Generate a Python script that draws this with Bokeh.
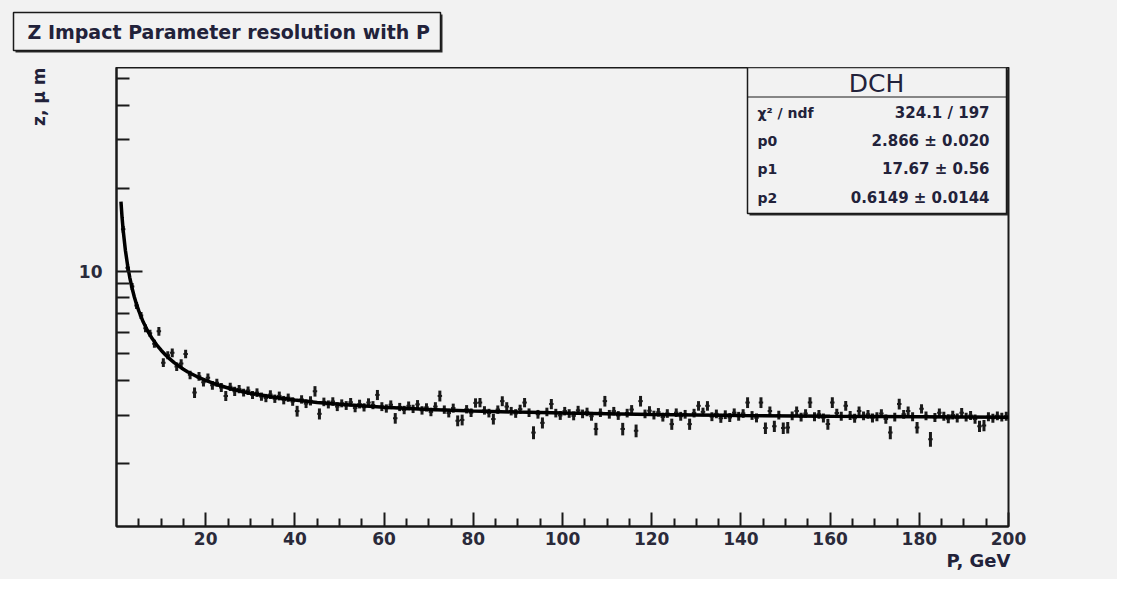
from bokeh.plotting import figure
from bokeh.layouts import column
from bokeh.models import Range1d, FixedTicker, Label, BoxAnnotation, ColumnDataSource, Title
from bokeh.embed import file_html
from bokeh.resources import INLINE

# ---------------- data ----------------
bin_lo = 1
bin_hi = 200
resolution = [
    14.2, 10.3, 8.8, 7.5, 6.9, 6.2, 5.95, 5.45, 6.05, 4.65,
    4.95, 5.05, 4.50, 4.62, 5.00, 4.20, 3.62, 4.15, 3.95, 4.10,
    3.85, 3.93, 3.78, 3.52, 3.80, 3.66, 3.73, 3.62, 3.68, 3.55,
    3.62, 3.50, 3.46, 3.56, 3.44, 3.52, 3.40, 3.47, 3.36, 3.10,
    3.42, 3.30, 3.38, 3.66, 3.03, 3.35, 3.28, 3.36, 3.22, 3.31,
    3.25, 3.34, 3.18, 3.29, 3.20, 3.33, 3.26, 3.55, 3.22, 3.17,
    3.27, 2.92, 3.21, 3.13, 3.24, 3.16, 3.28, 3.12, 3.20, 3.08,
    3.22, 3.52, 3.14, 3.05, 3.18, 2.86, 2.88, 3.15, 3.06, 3.32,
    3.33, 3.12, 3.05, 2.90, 3.14, 3.37, 3.22, 3.10, 3.04, 3.15,
    3.33, 3.06, 2.59, 3.02, 2.81, 3.08, 3.29, 3.05, 2.99, 3.10,
    3.04, 2.98, 3.12, 3.03, 3.08, 2.97, 2.67, 3.06, 3.37, 3.02,
    3.10, 2.99, 2.67, 3.05, 3.14, 2.63, 3.37, 3.03, 3.11, 3.00,
    3.07, 2.95, 3.04, 2.78, 3.06, 2.97, 3.02, 2.78, 3.05, 3.24,
    3.08, 3.24, 2.96, 3.03, 2.92, 3.01, 2.94, 3.06, 2.97, 3.04,
    3.33, 2.99, 2.93, 3.33, 2.69, 3.10, 2.73, 3.00, 2.69, 2.70,
    2.98, 3.10, 2.95, 3.04, 3.33, 2.96, 3.02, 2.93, 2.78, 3.33,
    3.05, 2.97, 3.24, 2.99, 2.92, 3.10, 2.98, 3.02, 2.93, 2.96,
    3.04, 2.90, 2.59, 2.95, 3.29, 3.02, 3.10, 2.96, 2.70, 3.16,
    2.98, 2.45, 2.94, 3.06, 2.97, 2.91, 3.00, 2.93, 3.06, 2.95,
    2.99, 2.90, 2.73, 2.75, 2.96, 2.92, 2.98, 2.95, 2.97,
]
resolution_err = [
    0.40, 0.30, 0.25, 0.22, 0.20, 0.20, 0.18, 0.18, 0.22, 0.17,
    0.17, 0.18, 0.16, 0.16, 0.18, 0.15, 0.16, 0.15, 0.14, 0.15,
    0.14, 0.13, 0.14, 0.15, 0.13, 0.14, 0.13, 0.12, 0.13, 0.12,
    0.13, 0.12, 0.12, 0.13, 0.12, 0.13, 0.12, 0.12, 0.12, 0.14,
    0.12, 0.12, 0.13, 0.16, 0.14, 0.12, 0.11, 0.12, 0.12, 0.11,
    0.12, 0.12, 0.11, 0.12, 0.11, 0.12, 0.11, 0.15, 0.12, 0.11,
    0.12, 0.13, 0.11, 0.11, 0.12, 0.11, 0.12, 0.11, 0.11, 0.11,
    0.12, 0.16, 0.11, 0.11, 0.12, 0.13, 0.13, 0.11, 0.11, 0.13,
    0.13, 0.11, 0.11, 0.13, 0.11, 0.14, 0.12, 0.11, 0.11, 0.12,
    0.13, 0.11, 0.14, 0.11, 0.13, 0.11, 0.14, 0.11, 0.11, 0.11,
    0.11, 0.11, 0.12, 0.11, 0.11, 0.11, 0.14, 0.11, 0.15, 0.11,
    0.11, 0.11, 0.14, 0.11, 0.12, 0.14, 0.15, 0.11, 0.12, 0.11,
    0.11, 0.11, 0.11, 0.13, 0.11, 0.11, 0.11, 0.13, 0.11, 0.13,
    0.11, 0.13, 0.11, 0.11, 0.11, 0.11, 0.11, 0.11, 0.11, 0.11,
    0.15, 0.11, 0.11, 0.15, 0.13, 0.12, 0.13, 0.11, 0.13, 0.13,
    0.11, 0.12, 0.11, 0.11, 0.15, 0.11, 0.11, 0.11, 0.13, 0.15,
    0.11, 0.11, 0.13, 0.11, 0.11, 0.12, 0.11, 0.11, 0.11, 0.11,
    0.11, 0.11, 0.14, 0.11, 0.15, 0.11, 0.12, 0.11, 0.13, 0.12,
    0.11, 0.15, 0.11, 0.11, 0.11, 0.11, 0.11, 0.11, 0.12, 0.11,
    0.11, 0.11, 0.13, 0.13, 0.11, 0.11, 0.11, 0.11, 0.11,
]
fit_p = [1, 1.25, 1.5, 2, 2.5, 3, 3.5, 4, 4.5, 5, 6, 7, 8, 9, 10, 11, 12, 13, 14,
         15, 16, 18, 20, 22.5, 25, 27.5, 30, 35, 40, 45, 50, 60, 70, 80, 90,
         100, 120, 140, 160, 180, 200]
fit_z = [17.9, 15.67, 14.06, 11.89, 10.47, 9.44, 8.67, 8.06, 7.57, 7.17, 6.53,
         6.06, 5.69, 5.40, 5.16, 4.96, 4.79, 4.64, 4.52, 4.40, 4.30, 4.14, 4.01,
         3.872, 3.76, 3.676, 3.60, 3.49, 3.40, 3.333, 3.28, 3.20, 3.145, 3.104,
         3.074, 3.049, 3.013, 2.988, 2.970, 2.956, 2.945]
x_major = [20, 40, 60, 80, 100, 120, 140, 160, 180, 200]
x_minor = [5, 10, 15, 25, 30, 35, 45, 50, 55, 65, 70, 75, 85, 90, 95, 105, 110,
           115, 125, 130, 135, 145, 150, 155, 165, 170, 175, 185, 190, 195]
y_major = [10]
y_minor = [2, 3, 4, 5, 6, 7, 8, 9, 20, 30, 40, 50]
title_text = "Z Impact Parameter resolution with P"
x_title = "P, GeV"
y_title = "z, \u03bc m"
stats_title = "DCH"
stats_names = ["\u03c7\u00b2 / ndf", "p0", "p1", "p2"]
stats_values = ["324.1 / 197", "2.866 \u00b1 0.020", "17.67 \u00b1 0.56", "0.6149 \u00b1 0.0144"]

# ---------------- styling ----------------
BG = "#f2f2f2"
INK = "#1a1a1a"
TXT = "#22223a"
FONT = "DejaVu Sans"
W = 1117
TOP_H = 67
MAIN_H = 512


def box(fig, l, t, r, b, fill, line=None, lw=1.5):
    fig.add_layout(BoxAnnotation(left=l, right=r, top=t, bottom=b,
                                 left_units="canvas", right_units="canvas",
                                 top_units="canvas", bottom_units="canvas",
                                 fill_color=fill, fill_alpha=1.0,
                                 line_color=line, line_width=lw,
                                 line_alpha=1.0 if line else 0.0))


def label(fig, x, y, text, size, align="left", style="bold", baseline="middle"):
    fig.add_layout(Label(x=x, y=y, x_units="canvas", y_units="canvas", text=text,
                         text_font=FONT, text_font_size=size, text_font_style=style,
                         text_align=align, text_baseline=baseline, text_color=TXT))


# ---- header strip with the ROOT title box ----
head = figure(width=W, height=TOP_H, output_backend="svg", toolbar_location=None,
              x_axis_location=None, y_axis_location=None,
              x_range=Range1d(0, 1), y_range=Range1d(0, 1),
              min_border_left=0, min_border_right=0, min_border_top=0, min_border_bottom=0,
              background_fill_color=BG, border_fill_color=BG, outline_line_color=None)
head.frame_align = False
head.grid.visible = False
box(head, 15, 14, 442, 52, "#2a2a2a")
box(head, 13, 12, 440, 50, BG, INK, 1.5)
label(head, 27, 31, title_text, "19px")

# ---- main plot ----
centers = [i + 0.5 for i in range(bin_lo, bin_hi)]
src = ColumnDataSource(dict(
    x=centers,
    y=resolution,
    lo=[v - e for v, e in zip(resolution, resolution_err)],
    hi=[v + e for v, e in zip(resolution, resolution_err)],
    xl=[c - 0.5 for c in centers],
    xr=[c + 0.5 for c in centers],
))

p = figure(width=W, height=MAIN_H, x_range=Range1d(0, 200), y_range=Range1d(1.18, 55),
           y_axis_type="log", output_backend="svg", toolbar_location=None,
           min_border_left=116, min_border_right=W - 1008, min_border_top=0,
           min_border_bottom=MAIN_H - 459,
           background_fill_color=BG, border_fill_color=BG)
p.frame_align = False
p.grid.visible = False
p.outline_line_color = INK
p.outline_line_width = 2

p.xaxis.ticker = FixedTicker(ticks=x_major, minor_ticks=x_minor)
p.yaxis.ticker = FixedTicker(ticks=y_major, minor_ticks=y_minor)
p.yaxis.major_label_overrides = {10: "10"}
for ax in (p.xaxis, p.yaxis):
    ax.axis_line_color = INK
    ax.axis_line_width = 2
    ax.major_tick_line_color = INK
    ax.minor_tick_line_color = INK
    ax.major_tick_line_width = 2
    ax.minor_tick_line_width = 2
    ax.major_tick_out = 0
    ax.minor_tick_out = 0
    ax.major_label_text_font = FONT
    ax.major_label_text_font_style = "bold"
    ax.major_label_text_color = "#2a2a3a"
    ax.major_label_text_font_size = "17px"
p.xaxis.major_tick_in = 14
p.xaxis.minor_tick_in = 8
p.xaxis.major_label_standoff = 5
p.yaxis.major_tick_in = 26
p.yaxis.minor_tick_in = 13
p.yaxis.major_label_standoff = 14

# data with error bars
p.segment(x0="x", x1="x", y0="lo", y1="hi", source=src, line_color=INK, line_width=3)
p.segment(x0="xl", x1="xr", y0="y", y1="y", source=src, line_color=INK, line_width=2)
# fit curve
p.line(fit_p, fit_z, line_color="black", line_width=3.5)

# stats box with shadow (top-right, inside frame)
box(p, 749, 2, 1008, 148, "#2a2a2a")
box(p, 747, 0, 1006, 146, BG, INK, 1.5)
box(p, 747, 29, 1006, 30, INK)
label(p, 876, 16, stats_title, "25px", align="center", style="normal")
rows_y = [45, 73, 101, 130]
for yy, nm, vv in zip(rows_y, stats_names, stats_values):
    label(p, 757, yy, nm, "14px")
    label(p, 989, yy, vv, "15px", align="right")

# axis titles (ROOT style: right / top aligned)
p.add_layout(Title(text=x_title, align="right", offset=-2, standoff=0,
                   text_font=FONT, text_font_size="18px", text_font_style="bold",
                   text_color=TXT), "below")
p.add_layout(Title(text=y_title, align="right", offset=0, standoff=53,
                   text_font=FONT, text_font_size="17px", text_font_style="bold",
                   text_color=TXT), "left")

layout = column(head, p, spacing=0, styles={"background-color": BG})
open("out.html", "w").write(file_html(layout, INLINE))
